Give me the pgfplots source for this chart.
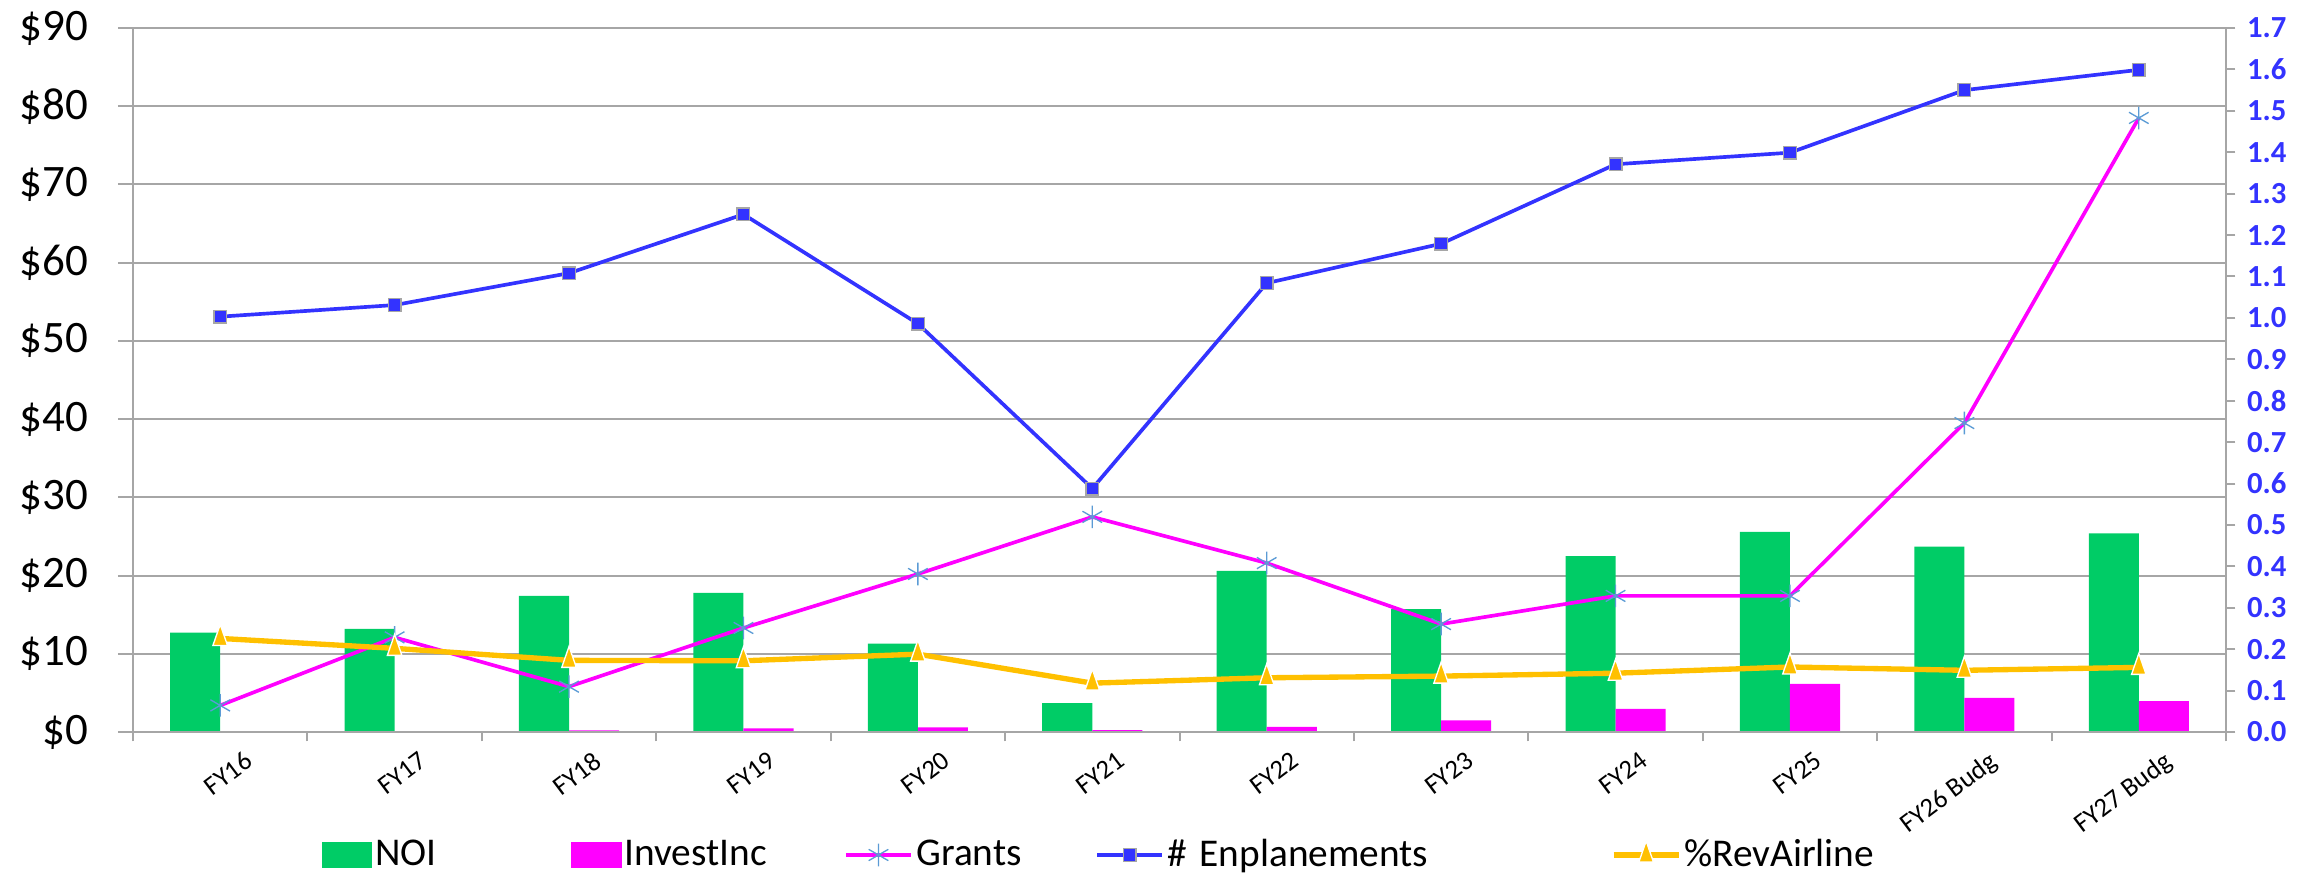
\documentclass[border=0pt]{standalone}
\usepackage{fontspec}
\setmainfont{Carlito}
\usepackage{pgfplots}
\usepackage{pgfplotstable}
\pgfplotsset{compat=1.18}

\definecolor{noigreen}{HTML}{00CC66}
\definecolor{invmag}{HTML}{FF00FF}
\definecolor{enplblue}{HTML}{3333FF}
\definecolor{revgold}{HTML}{FFC000}
\definecolor{starblue}{HTML}{5B9BD5}
\definecolor{gridgray}{HTML}{A6A6A6}

% dollar series (millions): NOI, investment income, grants
\pgfplotstableread{
x  noi   inv   grants
0  12.7  0.0   3.4
1  13.2  0.0   12.1
2  17.4  0.2   5.8
3  17.8  0.45  13.3
4  11.3  0.6   20.2
5  3.7   0.25  27.5
6  20.6  0.65  21.6
7  15.7  1.5   13.8
8  22.5  2.95  17.4
9  25.6  6.15  17.4
10 23.7  4.35  39.5
11 25.4  3.95  78.5
}\dollartable

% secondary series: enplanements (millions), airline revenue share
\pgfplotstableread{
x  enpl   rev
0  1.003  0.226
1  1.031  0.202
2  1.108  0.173
3  1.250  0.172
4  0.986  0.188
5  0.588  0.118
6  1.084  0.131
7  1.179  0.135
8  1.371  0.142
9  1.399  0.157
10 1.550  0.149
11 1.599  0.156
}\ratiotable

\begin{document}
\begin{tikzpicture}
\useasboundingbox (0,0) rectangle (696pt,263.1pt);

\begin{axis}[
  at={(39.9pt,43.5pt)}, anchor=south west,
  scale only axis, width=627.9pt, height=211.2pt,
  xmin=-0.5, xmax=11.5, ymin=0, ymax=90,
  axis x line*=bottom, axis y line*=left,
  axis line style={gridgray, line width=0.6pt, -},
  tick align=outside, major tick length=4.5pt,
  tick style={gridgray, line width=0.6pt},
  xtick={0,...,11},
  xticklabels={FY16,FY17,FY18,FY19,FY20,FY21,FY22,FY23,FY24,FY25,FY26 Budg,FY27 Budg},
  xtick style={draw=none},
  xticklabel style={font=\fontsize{8}{9.6}\selectfont, rotate=37, anchor=north east, xshift=8.5pt, yshift=-1.5pt},
  ytick={0,10,...,90},
  yticklabels={\$0,\$10,\$20,\$30,\$40,\$50,\$60,\$70,\$80,\$90},
  yticklabel style={font=\fontsize{13.5}{16}\selectfont, xshift=-5.5pt},
  ymajorgrids, grid style={gridgray, line width=0.6pt},
]
\addplot[ybar, bar width=0.287, bar shift=-0.1435, fill=noigreen, draw=none]
  table[x=x, y=noi]{\dollartable};
\addplot[ybar, bar width=0.287, bar shift=0.1435, fill=invmag, draw=none]
  table[x=x, y=inv]{\dollartable};
\addplot[invmag, line width=1.1pt, mark=asterisk, mark size=3.4pt,
  mark options={starblue, line width=0.4pt}]
  table[x=x, y=grants]{\dollartable};
\end{axis}

\begin{axis}[
  at={(39.9pt,43.5pt)}, anchor=south west,
  scale only axis, width=627.9pt, height=211.2pt,
  xmin=-0.5, xmax=11.5, ymin=0, ymax=1.7,
  axis x line*=bottom, axis y line*=right,
  axis line style={gridgray, line width=0.6pt, -},
  tick align=outside, major tick length=2.8pt,
  tick style={gridgray, line width=0.6pt},
  xtick={-0.5,0.5,...,11.5},
  xticklabels={,,,,,,,,,,,,},
  ytick={0,0.1,0.2,0.3,0.4,0.5,0.6,0.7,0.8,0.9,1.0,1.1,1.2,1.3,1.4,1.5,1.6,1.7},
  yticklabel style={font=\bfseries\fontsize{9.2}{11}\selectfont, text=enplblue,
    /pgf/number format/.cd, fixed, fixed zerofill, precision=1, assume math mode=true},
  legend columns=5,
  legend style={at={(0.0903,-0.1747)}, anchor=west, draw=none, fill=none,
    inner sep=0pt, outer sep=0pt, font=\fontsize{11.8}{14}\selectfont,
    nodes={inner sep=0pt, align=left},
    /tikz/every odd column/.style={column sep=0.9pt}},
  legend cell align=left,
  legend image code/.code={%
    \draw[mark repeat=2, mark phase=2, #1]
      plot coordinates {(0pt,0pt) (9.75pt,0pt) (19.5pt,0pt)};},
]
\addlegendimage{legend image code/.code={\fill[noigreen] (0pt,-3.6pt) rectangle (14.7pt,3.6pt);}}
\addlegendentry[text width=58.8pt]{NOI}
\addlegendimage{legend image code/.code={\fill[invmag] (0pt,-3.6pt) rectangle (14.7pt,3.6pt);}}
\addlegendentry[text width=65.7pt]{InvestInc}
\addlegendimage{invmag, line width=1.4pt, mark=asterisk, mark size=3.4pt,
  mark options={starblue, line width=0.4pt}}
\addlegendentry[text width=53.7pt]{Grants}

\addplot[enplblue, line width=1.1pt, mark=square*, mark size=1.9pt,
  mark options={fill=enplblue, draw=gray!70, line width=0.4pt}]
  table[x=x, y=enpl]{\ratiotable};
\addlegendentry[text width=133.2pt]{\# Enplanements}
\addplot[revgold, line width=1.6pt, mark=triangle*, mark size=4.2pt,
  mark options={fill=revgold, draw=white, line width=0.4pt, xscale=0.6}]
  table[x=x, y=rev]{\ratiotable};
\addlegendentry[text width=61.2pt]{\%RevAirline}
\end{axis}
\end{tikzpicture}
\end{document}
